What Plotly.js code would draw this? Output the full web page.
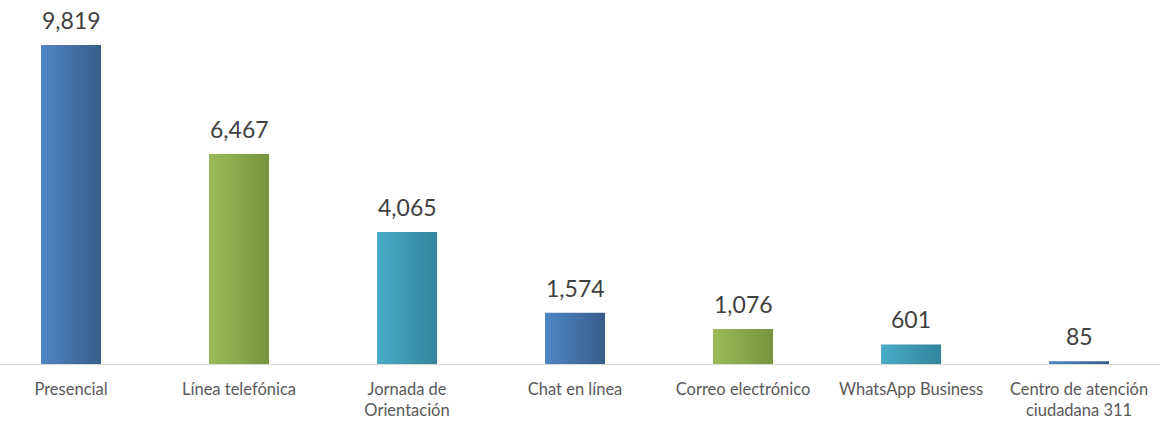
<!DOCTYPE html>
<html>
<head>
<meta charset="utf-8">
<script src="https://cdn.plot.ly/plotly-3.0.1.min.js"></script>
<style>html,body{margin:0;padding:0;background:#fff;} #chart{width:1160px;height:421px;}</style>
</head>
<body>
<div id="chart"></div>
<script>
const categories = ["Presencial", "Línea telefónica", "Jornada de<br>Orientación", "Chat en línea", "Correo electrónico", "WhatsApp Business", "Centro de atención<br>ciudadana 311"];
const values = [9819, 6467, 4065, 1574, 1076, 601, 85];
const barColors = ["#4A7EBB", "#8EB04F", "#44A3BC", "#4A7EBB", "#8EB04F", "#44A3BC", "#4A7EBB"];
const gradients = {
  "#4A7EBB": ["#4F86C6", "#385D8A"],
  "#8EB04F": ["#9BBB59", "#77933C"],
  "#44A3BC": ["#4BACC6", "#31849B"]
};
const FONT = "Lato, 'Open Sans', sans-serif";

const trace = {
  type: "bar",
  x: categories.map((c, i) => i),
  y: values,
  width: 0.357,
  marker: {color: barColors, line: {width: 0}},
  cliponaxis: false,
  hoverinfo: "none"
};

const annotations = values.map((v, i) => ({
  x: i, y: v, xref: "x", yref: "y",
  text: v.toLocaleString("en-US"),
  showarrow: false,
  yanchor: "bottom",
  yshift: 9,
  font: {family: FONT, size: 23, color: "#404040"}
}));

const layout = {
  width: 1160, height: 421,
  margin: {l: 0, r: 0, t: 0, b: 57},
  paper_bgcolor: "#fff", plot_bgcolor: "#fff",
  showlegend: false,
  annotations: annotations,
  xaxis: {
    range: [-0.4226, 6.482],
    tickmode: "array",
    tickvals: categories.map((c, i) => i),
    ticktext: categories,
    tickfont: {family: FONT, size: 16.5, color: "#595959"},
    ticklabelstandoff: 10,
    showgrid: false, zeroline: false,
    showline: true, linecolor: "#D9D9D9", linewidth: 1,
    ticks: "", ticklen: 0
  },
  yaxis: {
    range: [0, 11204],
    visible: false, showgrid: false, zeroline: false
  }
};

Plotly.newPlot("chart", [trace], layout, {staticPlot: true}).then(gd => {
  const svg = gd.querySelector("svg.main-svg");
  const ns = "http://www.w3.org/2000/svg";
  let defs = svg.querySelector("defs");
  Object.keys(gradients).forEach((k, idx) => {
    const lg = document.createElementNS(ns, "linearGradient");
    lg.setAttribute("id", "grad" + idx);
    lg.setAttribute("x1", "0"); lg.setAttribute("y1", "0");
    lg.setAttribute("x2", "1"); lg.setAttribute("y2", "0");
    [[0, gradients[k][0]], [1, gradients[k][1]]].forEach(([o, c]) => {
      const st = document.createElementNS(ns, "stop");
      st.setAttribute("offset", o);
      st.setAttribute("stop-color", c);
      lg.appendChild(st);
    });
    defs.appendChild(lg);
  });
  const keys = Object.keys(gradients);
  gd.querySelectorAll(".bars .point path").forEach((p, i) => {
    const idx = keys.indexOf(barColors[i]);
    p.style.fill = "url(#grad" + idx + ")";
  });
});
</script>
</body>
</html>
